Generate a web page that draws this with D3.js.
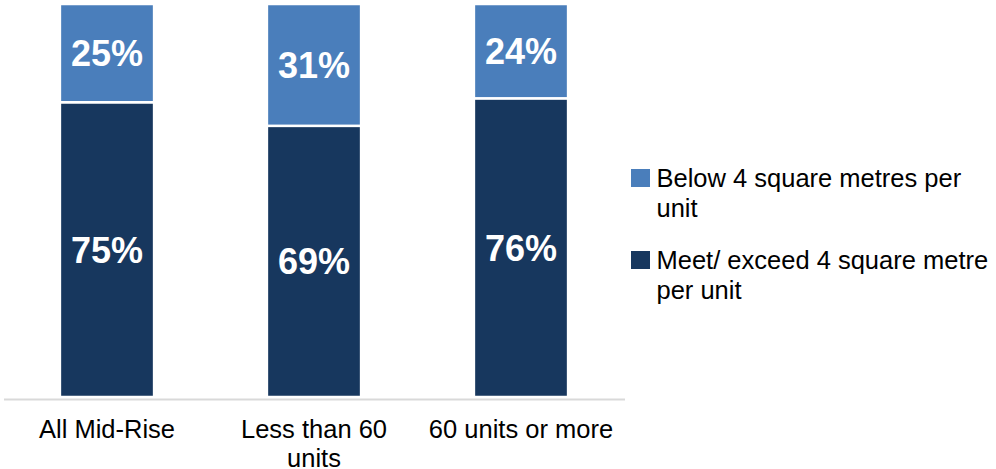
<!DOCTYPE html>
<html>
<head>
<meta charset="utf-8">
<script src="https://cdn.jsdelivr.net/npm/d3@7"></script>
<style>
  body { margin: 0; background: #fff; }
  text { font-family: "Liberation Sans", Arial, sans-serif; }
</style>
</head>
<body>
<div id="chart"></div>
<script>
var categories = [["All Mid-Rise"], ["Less than 60", "units"], ["60 units or more"]];
var catKeys = ["All Mid-Rise", "Less than 60 units", "60 units or more"];
var meetValues = [75, 69, 76];
var belowValues = [25, 31, 24];
var seriesNames = ["Below 4 square metres per unit", "Meet/ exceed 4 square metre per unit"];
var legendLines = [["Below 4 square metres per", "unit"], ["Meet/ exceed 4 square metre", "per unit"]];
var colors = {meet: "#17375e", below: "#4a7ebb"};

var W = 996, H = 469;
var svg = d3.select("#chart").append("svg")
    .attr("width", W)
    .attr("height", H);

var data = catKeys.map(function(k, i) {
  return {cat: k, meet: meetValues[i], below: belowValues[i]};
});

var x = d3.scaleBand()
    .domain(catKeys)
    .range([3.5, 624.5])
    .paddingInner(0.545)
    .paddingOuter(0.2725);

var y = d3.scaleLinear()
    .domain([0, 100])
    .range([397, 4]);

var stack = d3.stack().keys(["meet", "below"])(data);

var g = svg.append("g");

g.selectAll("g.layer")
  .data(stack)
  .enter().append("g")
    .attr("class", "layer")
    .attr("fill", function(d) { return colors[d.key]; })
  .selectAll("rect")
  .data(function(d) { return d; })
  .enter().append("rect")
    .attr("x", function(d) { return x(d.data.cat); })
    .attr("y", function(d) { return y(d[1]); })
    .attr("width", x.bandwidth())
    .attr("height", function(d) { return y(d[0]) - y(d[1]); })
    .attr("stroke", "#fff")
    .attr("stroke-width", 2.5);

// value labels
g.selectAll("g.labels")
  .data(stack)
  .enter().append("g")
  .selectAll("text")
  .data(function(d) { return d; })
  .enter().append("text")
    .attr("x", function(d) { return x(d.data.cat) + x.bandwidth() / 2; })
    .attr("y", function(d) { return (y(d[0]) + y(d[1])) / 2; })
    .attr("dy", "0.36em")
    .attr("text-anchor", "middle")
    .attr("fill", "#fff")
    .attr("font-weight", "bold")
    .attr("font-size", 36)
    .text(function(d) { return (d[1] - d[0]) + "%"; });

// axis line
var xAxis = d3.axisBottom(x).tickSize(0).tickFormat("");
var ax = svg.append("g")
    .attr("transform", "translate(0," + 399 + ")")
    .call(xAxis);
ax.select(".domain").attr("stroke", "#d9d9d9").attr("stroke-width", 2);

// category labels
svg.append("g").selectAll("text")
  .data(catKeys)
  .enter().append("text")
    .attr("x", function(d) { return x(d) + x.bandwidth() / 2; })
    .attr("y", 438)
    .attr("text-anchor", "middle")
    .attr("font-size", 25.5)
    .attr("fill", "#000")
    .each(function(d, i) {
      var t = d3.select(this);
      categories[i].forEach(function(line, j) {
        t.append("tspan")
          .attr("x", x(d) + x.bandwidth() / 2)
          .attr("dy", j === 0 ? 0 : 29)
          .text(line);
      });
    });

// legend
var legend = svg.append("g");
var legendKeys = ["below", "meet"];
var leg = legend.selectAll("g")
  .data(legendKeys)
  .enter().append("g")
    .attr("transform", function(d, i) { return "translate(631," + (169 + i * 82) + ")"; });

leg.append("rect")
    .attr("width", 19)
    .attr("height", 18)
    .attr("fill", function(d) { return colors[d]; });

leg.append("text")
    .attr("x", 25.5)
    .attr("y", 18)
    .attr("font-size", 25.5)
    .attr("fill", "#000")
    .each(function(d, i) {
      var t = d3.select(this);
      legendLines[i].forEach(function(line, j) {
        t.append("tspan")
          .attr("x", 25.5)
          .attr("dy", j === 0 ? 0 : 30)
          .text(line);
      });
    });
</script>
</body>
</html>
